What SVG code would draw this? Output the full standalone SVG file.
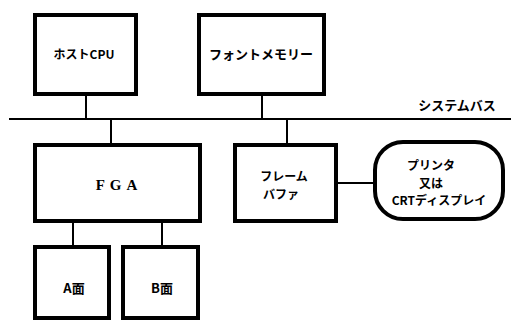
<svg xmlns="http://www.w3.org/2000/svg" width="511" height="321" viewBox="0 0 511 321">
<style>
.box{fill:#fff;stroke:#000;stroke-width:4}
.ln{stroke:#000;stroke-width:2;fill:none}
text{font-family:"Noto Sans CJK JP","Liberation Sans",sans-serif;font-weight:bold;font-size:13px;fill:#000;text-anchor:middle;dominant-baseline:central}
.sm{font-size:12px}
</style>
<rect width="511" height="321" fill="#fff"/>
<g id="connectors">
<line class="ln" x1="9" y1="119" x2="511" y2="119"/>
<line class="ln" x1="86" y1="96" x2="86" y2="119"/>
<line class="ln" x1="262" y1="96" x2="262" y2="119"/>
<line class="ln" x1="111" y1="119" x2="111" y2="143"/>
<line class="ln" x1="287" y1="119" x2="287" y2="143"/>
<line class="ln" x1="73" y1="223" x2="73" y2="245"/>
<line class="ln" x1="162" y1="223" x2="162" y2="245"/>
<line class="ln" x1="338" y1="183" x2="373" y2="183"/>
</g>
<g id="bus-label"><text x="457" y="104">システムバス</text></g>
<g id="host-cpu"><rect class="box" x="35" y="15" width="101" height="79"/><text x="84" y="53" class="sm">ホストCPU</text></g>
<g id="font-memory"><rect class="box" x="199" y="15" width="125" height="79"/><text x="261" y="53">フォントメモリー</text></g>
<g id="fga"><rect class="box" x="35" y="145" width="165" height="76"/><text x="119" y="185" style="font-family:'Liberation Serif',serif;font-size:15px;letter-spacing:5px">FGA</text></g>
<g id="frame-buffer"><rect class="box" x="235" y="145" width="101" height="76"/><text x="284" y="175.5" class="sm">フレーム</text><text x="281" y="193" class="sm">バファ</text></g>
<g id="display"><rect class="box" x="375" y="142" width="128" height="77" rx="28"/><text x="431" y="164.5" class="sm">プリンタ</text><text x="431" y="182" class="sm">又は</text><text x="439" y="199.5" class="sm">CRTディスプレイ</text></g>
<g id="plane-a"><rect class="box" x="35" y="247" width="74" height="71"/><text x="74" y="287">A面</text></g>
<g id="plane-b"><rect class="box" x="123" y="247" width="75" height="71"/><text x="162" y="287">B面</text></g>
</svg>
